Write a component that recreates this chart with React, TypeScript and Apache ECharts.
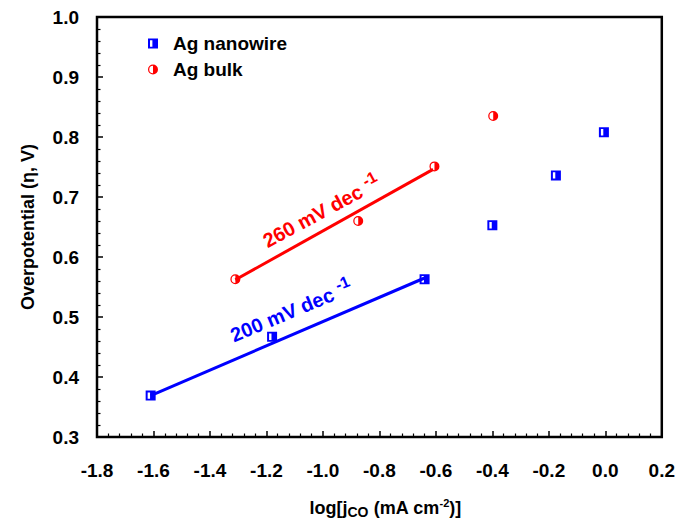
import React, { useEffect, useRef } from 'react';
import * as echarts from 'echarts';

// ---- data ----
const nanowireX = [-1.61, -1.18, -0.64, -0.40, -0.175, -0.005];
const nanowireY = [0.369, 0.467, 0.563, 0.653, 0.736, 0.808];
const bulkX = [-1.31, -0.875, -0.605, -0.397];
const bulkY = [0.563, 0.660, 0.751, 0.835];
const nanowireFitX = [-1.61, -0.64];
const nanowireFitY = [0.369, 0.565];
const bulkFitX = [-1.31, -0.61];
const bulkFitY = [0.562, 0.746];
const seriesNames = ['Ag nanowire', 'Ag bulk'];
const slopeTexts = ['200 mV dec', '260 mV dec'];
const slopeSup = '-1';

const FONT = 'Liberation Sans, Arial, sans-serif';
const BLUE = '#0000ff';
const RED = '#ff0000';

const squareSym = 'path://M0,0H10V10H0Z M2,1.8V8.2H4.4V1.8Z';
const circleSym =
  'path://M10,0A10,10,0,1,1,10,20A10,10,0,1,1,10,0Z M10,17.5L10,2.5A7.5,7.5,0,0,0,10,17.5Z';

const zip = (xs: number[], ys: number[]) => xs.map((x, i) => [x, ys[i]]);

export default function App() {
  const ref = useRef<HTMLDivElement>(null);
  useEffect(() => {
    const chart = echarts.init(ref.current!, null, { renderer: 'svg' });
    const option: any = {
      animation: false,
      backgroundColor: '#fff',
      textStyle: { fontFamily: FONT },
      grid: {
        left: 97,
        right: 15,
        top: 17,
        bottom: 83,
        show: true,
        borderColor: '#000',
        borderWidth: 2.5,
        containLabel: false,
      },
      legend: {
        data: seriesNames,
        orient: 'vertical',
        left: 143,
        top: 29,
        itemWidth: 10,
        itemHeight: 10,
        itemGap: 7,
        textStyle: {
          fontFamily: FONT,
          fontSize: 19,
          fontWeight: 'bold',
          color: '#000',
          padding: [0, 0, 0, 10],
        },
      },
      xAxis: {
        type: 'value',
        min: -1.8,
        max: 0.2,
        interval: 0.2,
        name: 'log[j{sub|CO} (mA cm{sup|-2})]',
        nameLocation: 'middle',
        nameGap: 60,
        nameTextStyle: {
          fontFamily: FONT,
          fontSize: 18,
          fontWeight: 'bold',
          color: '#000',
          lineHeight: 22,
          padding: [0, 0, 0, 12],
          rich: {
            sub: { fontFamily: FONT, fontSize: 14, fontWeight: 'bold', color: '#000', lineHeight: 13, verticalAlign: 'bottom' },
            sup: { fontFamily: FONT, fontSize: 11, fontWeight: 'bold', color: '#000', lineHeight: 11, verticalAlign: 'top' },
          },
        },
        axisLine: { show: true, onZero: false, lineStyle: { color: '#000', width: 2 } },
        axisTick: { show: true, inside: true, length: 6, lineStyle: { color: '#000', width: 1.5 } },
        minorTick: { show: true, splitNumber: 5, length: 3.5, lineStyle: { color: '#000', width: 1.2 } },
        splitLine: { show: false },
        minorSplitLine: { show: false },
        axisLabel: {
          margin: 24,
          fontFamily: FONT,
          fontSize: 19,
          fontWeight: 'bold',
          color: '#000',
          formatter: (v: number) => v.toFixed(1),
        },
      },
      yAxis: {
        type: 'value',
        min: 0.3,
        max: 1.0,
        interval: 0.1,
        name: 'Overpotential (η, V)',
        nameLocation: 'middle',
        nameGap: 60,
        nameTextStyle: { fontFamily: FONT, fontSize: 18, fontWeight: 'bold', color: '#000' },
        axisLine: { show: true, onZero: false, lineStyle: { color: '#000', width: 2 } },
        axisTick: { show: true, inside: true, length: 6, lineStyle: { color: '#000', width: 1.5 } },
        minorTick: { show: true, splitNumber: 5, length: 3.5, lineStyle: { color: '#000', width: 1.2 } },
        splitLine: { show: false },
        minorSplitLine: { show: false },
        axisLabel: {
          margin: 18,
          fontFamily: FONT,
          fontSize: 19,
          fontWeight: 'bold',
          color: '#000',
          formatter: (v: number) => v.toFixed(1),
        },
      },
      series: [
        {
          name: 'fit-nanowire',
          type: 'line',
          data: zip(nanowireFitX, nanowireFitY),
          symbol: 'none',
          lineStyle: { color: BLUE, width: 3 },
          z: 2,
        },
        {
          name: 'fit-bulk',
          type: 'line',
          data: zip(bulkFitX, bulkFitY),
          symbol: 'none',
          lineStyle: { color: RED, width: 3 },
          z: 2,
        },
        {
          name: seriesNames[0],
          type: 'scatter',
          data: zip(nanowireX, nanowireY),
          symbol: squareSym,
          symbolSize: 10,
          itemStyle: { color: BLUE, opacity: 1 },
          z: 5,
        },
        {
          name: seriesNames[1],
          type: 'scatter',
          data: zip(bulkX, bulkY),
          symbol: circleSym,
          symbolSize: 10,
          itemStyle: { color: RED, opacity: 1 },
          z: 5,
        },
      ],
    };
    chart.setOption(option);

    const px = (x: number, y: number) => chart.convertToPixel({ gridIndex: 0 }, [x, y]) as number[];
    const angleOf = (xs: number[], ys: number[]) => {
      const a = px(xs[0], ys[0]);
      const b = px(xs[1], ys[1]);
      return Math.atan2(a[1] - b[1], b[0] - a[0]);
    };
    const annots = [
      { text: slopeTexts[0], color: BLUE, at: px(-1.112, 0.51), rot: angleOf(nanowireFitX, nanowireFitY) - 0.01 },
      { text: slopeTexts[1], color: RED, at: px(-1.005, 0.676), rot: angleOf(bulkFitX, bulkFitY) - 0.015 },
    ];
    chart.setOption({
      graphic: annots.map((a) => ({
        type: 'text',
        x: a.at[0],
        y: a.at[1],
        rotation: a.rot,
        z: 10,
        style: {
          text: a.text + ' {s|' + slopeSup + '}',
          fill: a.color,
          fontFamily: FONT,
          fontSize: 20,
          fontWeight: 'bold',
          lineHeight: 28,
          align: 'center',
          verticalAlign: 'middle',
          rich: {
            s: { fill: a.color, fontFamily: FONT, fontSize: 16, fontWeight: 'bold', lineHeight: 14, verticalAlign: 'top' },
          },
        },
      })),
    });
    return () => chart.dispose();
  }, []);
  return <div ref={ref} style={{ width: 678, height: 524, position: 'fixed', left: 0, top: 0 }} />;
}
